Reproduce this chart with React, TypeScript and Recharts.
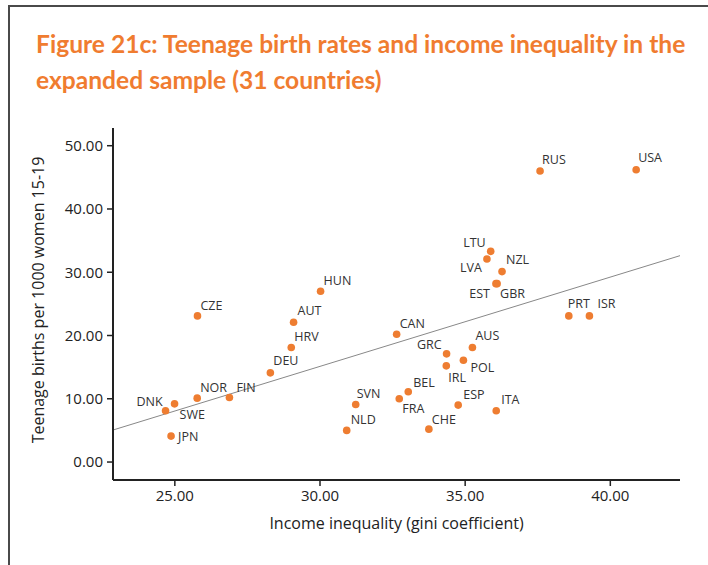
import React from 'react';
import { ScatterChart, Scatter, XAxis, YAxis, ReferenceLine } from 'recharts';

const countries = ['RUS', 'USA', 'LTU', 'LVA', 'NZL', 'EST', 'GBR', 'PRT', 'ISR', 'CAN', 'GRC', 'AUS', 'POL', 'IRL', 'BEL', 'FRA', 'SVN', 'NLD', 'ESP', 'CHE', 'ITA', 'CZE', 'AUT', 'HRV', 'HUN', 'DEU', 'NOR', 'FIN', 'DNK', 'SWE', 'JPN'];
const gini = [37.58, 40.89, 35.88, 35.75, 36.27, 36.06, 36.1, 38.57, 39.28, 32.64, 34.36, 35.25, 34.94, 34.35, 33.04, 32.73, 31.23, 30.92, 34.76, 33.75, 36.07, 25.78, 29.09, 29.01, 30.02, 28.29, 25.77, 26.88, 24.68, 24.99, 24.87];
const teenBirths = [46.0, 46.2, 33.3, 32.1, 30.1, 28.2, 28.2, 23.1, 23.1, 20.2, 17.1, 18.1, 16.1, 15.2, 11.1, 10.0, 9.1, 5.0, 9.0, 5.2, 8.1, 23.1, 22.1, 18.1, 27.0, 14.1, 10.1, 10.2, 8.1, 9.2, 4.1];

const xTicks = [25, 30, 35, 40];
const yTicks = [0, 10, 20, 30, 40, 50];

// fitted line, start and end
const fitX = [22.87, 42.4];
const fitY = [5.06, 32.62];

// label placement relative to each dot: [dx, dy, anchor]
const labelPos: Record<string, [number, number, string]> = {
  RUS: [2, -12, 'start'], USA: [2, -12, 'start'], LTU: [-5, -9, 'end'], LVA: [-5, 9, 'end'],
  NZL: [4, -12, 'start'], EST: [-6, 10, 'end'], GBR: [3, 10, 'start'], PRT: [-1, -12, 'start'],
  ISR: [8, -12, 'start'], CAN: [3, -11, 'start'], GRC: [-5, -9, 'end'], AUS: [3, -12, 'start'],
  POL: [7, 7, 'start'], IRL: [2, 12, 'start'], BEL: [5, -9, 'start'], FRA: [3, 10, 'start'],
  SVN: [1, -11, 'start'], NLD: [4, -11, 'start'], ESP: [5, -11, 'start'], CHE: [3, -10, 'start'],
  ITA: [5, -11, 'start'], CZE: [3, -10, 'start'], AUT: [4, -12, 'start'], HRV: [3, -11, 'start'],
  HUN: [3, -11, 'start'], DEU: [3, -12, 'start'], NOR: [3, -11, 'start'], FIN: [7, -10, 'start'],
  DNK: [-3, -9, 'end'], SWE: [5, 11, 'start'], JPN: [7, 0, 'start'],
};

const data = countries.map((c, i) => ({ country: c, gini: gini[i], births: teenBirths[i] }));

const ORANGE = '#EE7D31';
const FONT = '"Open Sans", sans-serif';

const Dot = (props: any) => {
  const { cx, cy, payload } = props;
  const [dx, dy, anchor] = labelPos[payload.country] || [4, -10, 'start'];
  return (
    <g>
      <circle cx={cx} cy={cy} r={3.8} fill={ORANGE} />
      <text x={cx + dx} y={cy + dy} textAnchor={anchor as any} dominantBaseline="central"
        fontSize={12.5} fontFamily={FONT} fill="#333">{payload.country}</text>
    </g>
  );
};

const YTitle = (props: any) => {
  const { viewBox } = props;
  const x = viewBox.x - 15;
  const y = viewBox.y + viewBox.height / 2 - 4;
  return (
    <text x={x} y={y} transform={`rotate(-90, ${x}, ${y})`} textAnchor="middle" dominantBaseline="central"
      fontSize={16} fontFamily={FONT} fill="#222">Teenage births per 1000 women 15-19</text>
  );
};

const titleStyle: React.CSSProperties = {
  position: 'absolute', left: 36, fontFamily: 'Lato, sans-serif', fontWeight: 700, fontSize: 24.6,
  color: '#F07C30', whiteSpace: 'nowrap', lineHeight: '30px',
};

export default function App() {
  return (
    <div style={{ position: 'fixed', left: 0, top: 0, width: 708, height: 565, background: '#fff', overflow: 'hidden' }}>
      <div style={{ position: 'absolute', left: 8, top: 5, width: 720, height: 580, borderLeft: '2px solid #4a4a4a', borderTop: '2px solid #4a4a4a' }} />
      <div style={{ ...titleStyle, top: 29 }}>Figure 21c: Teenage birth rates and income inequality in the</div>
      <div style={{ ...titleStyle, top: 65 }}>expanded sample (31 countries)</div>
      <div style={{ position: 'absolute', left: 0, top: 0 }}>
        <ScatterChart width={708} height={565} margin={{ top: 128, right: 28, bottom: 35, left: 53 }}>
          <XAxis type="number" dataKey="gini" domain={[22.87, 42.4]} ticks={xTicks} allowDataOverflow
            tickFormatter={(v: number) => v.toFixed(2)} height={50} tickSize={6} tickMargin={4}
            axisLine={{ stroke: '#222', strokeWidth: 2 }} tickLine={{ stroke: '#222', strokeWidth: 1.5 }}
            tick={{ fill: '#222', fontSize: 15, fontFamily: FONT }}
            label={{ value: 'Income inequality (gini coefficient)', position: 'insideBottom', offset: 1, fill: '#222', fontSize: 16, fontFamily: FONT }} />
          <YAxis type="number" dataKey="births" domain={[-2.84, 52.8]} ticks={yTicks} allowDataOverflow
            tickFormatter={(v: number) => v.toFixed(2)} width={60} tickSize={6} tickMargin={4}
            axisLine={{ stroke: '#222', strokeWidth: 2 }} tickLine={{ stroke: '#222', strokeWidth: 1.5 }}
            tick={{ fill: '#222', fontSize: 15, fontFamily: FONT }}
            label={<YTitle />} />
          <ReferenceLine segment={[{ x: fitX[0], y: fitY[0] }, { x: fitX[1], y: fitY[1] }]} stroke="#888" strokeWidth={1} ifOverflow="visible" />
          <Scatter data={data} shape={<Dot />} isAnimationActive={false} />
        </ScatterChart>
      </div>
    </div>
  );
}
